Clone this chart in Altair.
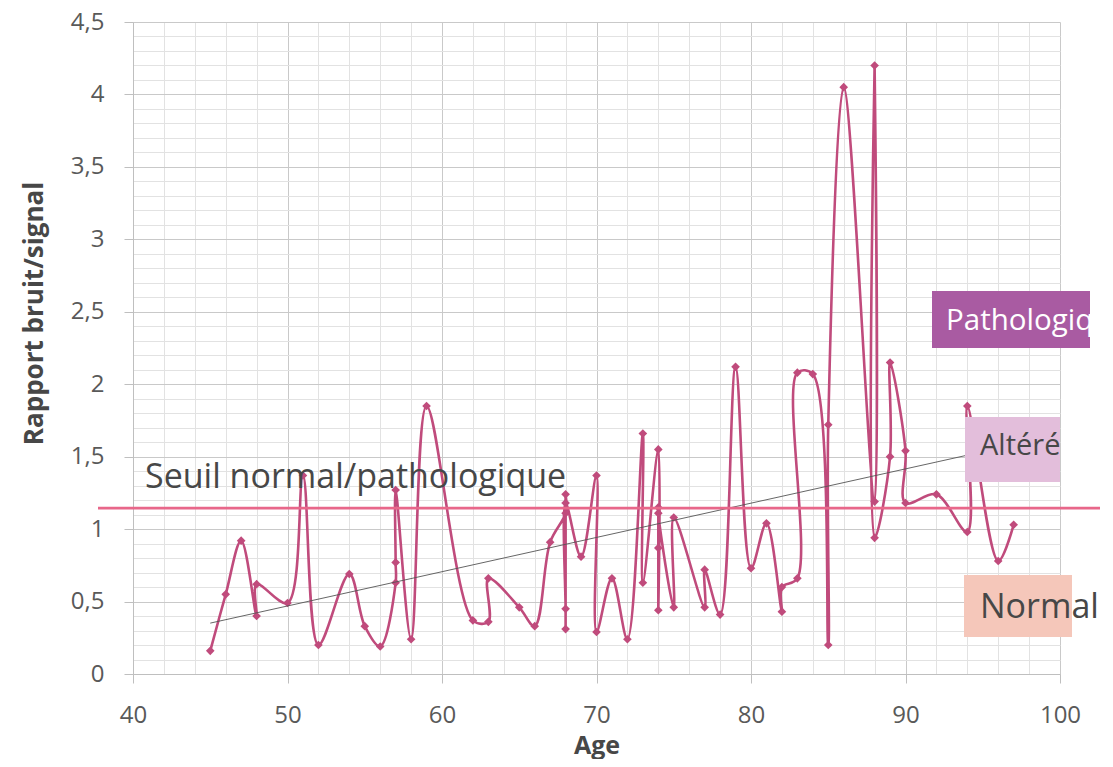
import altair as alt
import pandas as pd

# ---- data (Excel smoothed scatter, in row order) ----
ages = [45, 46, 47, 48, 48, 50, 51, 52, 54, 55, 56, 57, 57, 57, 58, 59, 62, 63, 63,
        65, 66, 67, 68, 68, 68, 68, 68, 69, 70, 70, 71, 72, 73, 73, 74, 74, 74, 74, 74,
        75, 75, 77, 77, 78, 79, 80, 81, 82, 82, 83, 83, 84, 85, 85, 86, 88, 88, 88,
        89, 89, 90, 90, 92, 94, 94, 96, 97]
ratios = [0.16, 0.55, 0.92, 0.40, 0.62, 0.49, 1.37, 0.20, 0.69, 0.33, 0.19, 0.63, 0.77, 1.27,
          0.24, 1.85, 0.37, 0.36, 0.66, 0.46, 0.33, 0.91, 1.11, 1.24, 0.31, 0.45, 1.18, 0.81,
          1.37, 0.29, 0.66, 0.24, 1.66, 0.63, 1.55, 0.44, 0.87, 1.15, 1.11, 0.46, 1.08, 0.46,
          0.72, 0.41, 2.12, 0.73, 1.04, 0.43, 0.60, 0.66, 2.08, 2.07, 0.20, 1.72, 4.05, 1.19,
          4.20, 0.94, 1.50, 2.15, 1.54, 1.18, 1.24, 0.98, 1.85, 0.78, 1.03]
threshold = [1.145]
x_major = [40, 50, 60, 70, 80, 90, 100]

df = pd.DataFrame({"age": ages, "ratio": ratios, "idx": list(range(len(ages)))})

FONT = "Open Sans"
LINE = "#C04B7C"
TXT = "#474747"

x_vals = list(range(40, 101, 2))
y_vals = [i / 10 for i in range(46)]
x_major_test = "indexof(" + str(x_major) + ", datum.value) >= 0"
y_major_test = "abs(datum.value*2 - round(datum.value*2)) < 0.001"

x_axis = alt.Axis(
    values=x_vals, tickCount=200, grid=True, labelFlush=False,
    gridColor={"condition": {"test": x_major_test, "value": "#C9C9C9"}, "value": "#E2E2E2"},
    tickOpacity={"condition": {"test": x_major_test, "value": 1}, "value": 0},
    labelExpr=f"{x_major_test} ? toString(datum.value) : ''",
    labelOverlap=False, tickSize=9, tickColor="#BFBFBF", domainColor="#BFBFBF",
    labelPadding=20, title="Age", titleY=79, titleBaseline="alphabetic",
)
y_axis = alt.Axis(
    values=y_vals, tickCount=200, grid=True, labelFlush=False,
    gridColor={"condition": {"test": y_major_test, "value": "#C9C9C9"}, "value": "#E2E2E2"},
    tickOpacity={"condition": {"test": y_major_test, "value": 1}, "value": 0},
    labelExpr=f"{y_major_test} ? replace(toString(datum.value), '.', ',') : ''",
    labelOverlap=False, tickSize=9, tickColor="#BFBFBF", domainColor="#BFBFBF",
    labelPadding=20, title="Rapport bruit/signal", titleX=-99, titleY=291,
    titleAngle=270, titleAlign="center", titleBaseline="middle", titleFontSize=26,
)

xs = alt.Scale(domain=[40, 100], nice=False, zero=False)
ys = alt.Scale(domain=[0, 4.5], nice=False)

base = alt.Chart(df)
line = base.mark_line(interpolate="catmull-rom", color=LINE, strokeWidth=2.6).encode(
    x=alt.X("age:Q", scale=xs, axis=x_axis),
    y=alt.Y("ratio:Q", scale=ys, axis=y_axis),
    order="idx:Q",
)
points = base.mark_point(shape="diamond", filled=True, size=75, color=LINE, opacity=1).encode(
    x="age:Q", y="ratio:Q"
)
trend = base.transform_regression("age", "ratio", extent=[45, 97]).mark_line(
    color="#555555", strokeWidth=0.9
).encode(x="age:Q", y="ratio:Q")

one = pd.DataFrame({"a": [0]})
seuil_df = pd.DataFrame({"y": threshold})
seuil = alt.Chart(seuil_df).mark_rule(color="#E8678A", strokeWidth=2.6, clip=False).encode(
    y="y:Q", x=alt.value(-35), x2=alt.value(967)
)


def box(x1, x2, y1, y2, fill):
    return alt.Chart(one).mark_rect(color=fill, clip=False).encode(
        x=alt.value(x1), x2=alt.value(x2), y=alt.value(y1), y2=alt.value(y2)
    )


def label(text, x, y, size, color=TXT, **kw):
    return alt.Chart(one).mark_text(
        text=text, align="left", baseline="alphabetic", font=FONT,
        fontSize=size, color=color, clip=False, **kw
    ).encode(x=alt.value(x), y=alt.value(y))


seuil_txt = label("Seuil normal/pathologique", 12, 466, 34)
patho_box = box(799, 957, 269, 326, "#A95BA2")
patho_txt = label("Pathologique", 813, 308, 29.5, color="white")
patho_cover = box(957, 980, 262, 332, "white")
alt_box = box(832, 927, 395, 460, "#E3BEDB")
alt_txt = label("Altéré", 847, 433, 29)
norm_box = box(831, 939, 553, 615, "#F5C7BA")
norm_txt = label("Normal", 847, 596, 34)

chart = alt.layer(
    line, points, trend, seuil_txt, seuil,
    patho_box, patho_txt, patho_cover, alt_box, alt_txt, norm_box, norm_txt,
).properties(
    width=927, height=652,
    autosize=alt.AutoSizeParams(type="none"),
    padding={"left": 125, "top": 14, "right": 45, "bottom": 85},
).configure_view(strokeWidth=0).configure_axis(
    labelFont=FONT, labelFontSize=24, labelColor="#595959",
    titleFont=FONT, titleFontSize=25, titleFontWeight="bold", titleColor=TXT,
)

chart.save("out.html", embed_options={"renderer": "svg", "actions": False})
